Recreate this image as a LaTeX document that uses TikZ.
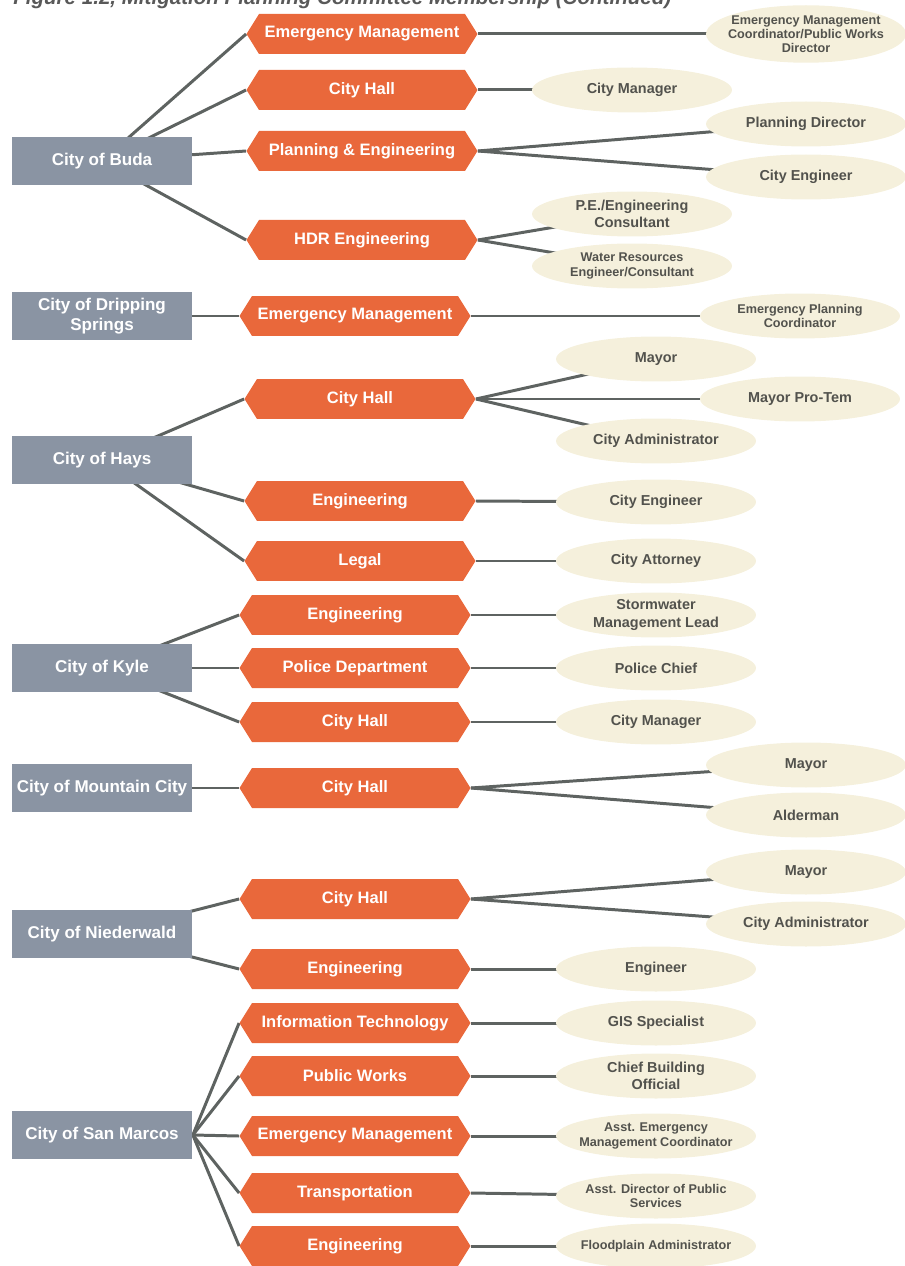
\documentclass[tikz,border=0pt]{standalone}
\usepackage{fontspec}
\setmainfont{Liberation Sans}
\usetikzlibrary{shapes.geometric,shapes.symbols,backgrounds}
\definecolor{cityBase}{HTML}{8A94A3}
\definecolor{deptBase}{HTML}{E9683B}
\definecolor{roleBase}{HTML}{F5F0DC}
\definecolor{linkBase}{HTML}{5E6361}
\definecolor{roleInk}{HTML}{52524D}
\colorlet{titleInk}{black!65}
\tikzstyle{cityBox}=[rectangle,fill=cityBase,text=white,minimum width=3.62cm,minimum height=0.96cm,inner sep=1pt,align=center,font=\fontsize{9.7}{11}\selectfont\bfseries]
\tikzstyle{deptHex}=[signal,signal to=west and east,signal pointer angle=116,fill=deptBase,text=white,minimum width=4.62cm,minimum height=0.8cm,inner sep=1pt,font=\fontsize{9.4}{11}\selectfont\bfseries]
\tikzstyle{roleOval}=[ellipse,fill=roleBase,text=roleInk,minimum width=4cm,minimum height=0.9cm,inner sep=0pt,align=center,font=\fontsize{8.2}{10}\selectfont\bfseries]
\tikzstyle{roleSmall}=[roleOval,inner xsep=-6pt,font=\fontsize{7.2}{8}\selectfont\bfseries]
\tikzstyle{link}=[draw=linkBase,line width=1.7pt]

\begin{document}
\begin{tikzpicture}[x=0.02cm,y=-0.02cm]
\useasboundingbox (0,0) rectangle (904,1266);
\node[anchor=base west,text=titleInk,inner sep=0pt,font=\fontsize{11.7}{13}\selectfont\bfseries\itshape] (title) at (13,5)
  {Figure 1.2, Mitigation Planning Committee Membership (Continued)};

% Buda
\node[cityBox] (buda) at (102,161) {City of Buda};
\node[deptHex] (bEM) at (362,34) {Emergency Management};
\node[deptHex] (bHall) at (362,90) {City Hall};
\node[deptHex] (bPlan) at (362,151) {Planning \& Engineering};
\node[deptHex] (bHDR) at (362,240) {HDR Engineering};
\node[roleSmall,minimum height=1.15cm] (bEMc) at (806,34) {Emergency Management\\Coordinator/Public Works\\Director};
\node[roleOval] (bMgr) at (632,90) {City Manager};
\node[roleOval] (bPlanDir) at (806,124) {Planning Director};
\node[roleOval] (bEngr) at (806,177) {City Engineer};
\node[roleOval] (bPE) at (632,214) {P.E./Engineering\\Consultant};
\node[roleSmall] (bWater) at (632,266) {Water Resources\\Engineer/Consultant};

% Dripping Springs
\node[cityBox] (drip) at (102,316) {City of Dripping\\Springs};
\node[deptHex] (dEM) at (355,316) {Emergency Management};
\node[roleSmall] (dEPC) at (800,316) {Emergency Planning\\Coordinator};

% Hays
\node[cityBox] (hays) at (102,460) {City of Hays};
\node[deptHex] (hHall) at (360,399) {City Hall};
\node[deptHex] (hEng) at (360,501) {Engineering};
\node[deptHex] (hLegal) at (360,561) {Legal};
\node[roleOval] (hMayor) at (656,359) {Mayor};
\node[roleOval] (hPro) at (800,399) {Mayor Pro-Tem};
\node[roleOval] (hAdmin) at (656,441) {City Administrator};
\node[roleOval] (hEngr) at (656,502) {City Engineer};
\node[roleOval] (hAtty) at (656,561) {City Attorney};

% Kyle
\node[cityBox] (kyle) at (102,668) {City of Kyle};
\node[deptHex] (kEng) at (355,615) {Engineering};
\node[deptHex] (kPolice) at (355,668) {Police Department};
\node[deptHex] (kHall) at (355,722) {City Hall};
\node[roleOval] (kStorm) at (656,615) {Stormwater\\Management Lead};
\node[roleOval] (kChief) at (656,668) {Police Chief};
\node[roleOval] (kMgr) at (656,722) {City Manager};

% Mountain City
\node[cityBox] (mtn) at (102,788) {City of Mountain City};
\node[deptHex] (mHall) at (355,788) {City Hall};
\node[roleOval] (mMayor) at (806,765) {Mayor};
\node[roleOval] (mAlder) at (806,815) {Alderman};

% Niederwald
\node[cityBox] (nied) at (102,934) {City of Niederwald};
\node[deptHex] (nHall) at (355,899) {City Hall};
\node[deptHex] (nEng) at (355,969) {Engineering};
\node[roleOval] (nMayor) at (806,872) {Mayor};
\node[roleOval] (nAdmin) at (806,924) {City Administrator};
\node[roleOval] (nEngr) at (656,969) {Engineer};

% San Marcos
\node[cityBox] (sanm) at (102,1135) {City of San Marcos};
\node[deptHex] (sIT) at (355,1023) {Information Technology};
\node[deptHex] (sPW) at (355,1076) {Public Works};
\node[deptHex] (sEM) at (355,1136) {Emergency Management};
\node[deptHex] (sTrans) at (355,1193) {Transportation};
\node[deptHex] (sEng) at (355,1246) {Engineering};
\node[roleOval] (sGIS) at (656,1023) {GIS Specialist};
\node[roleOval] (sCBO) at (656,1076) {Chief Building\\Official};
\node[roleSmall] (sAEM) at (656,1136) {Asst. Emergency\\Management Coordinator};
\node[roleSmall] (sADir) at (656,1196) {Asst. Director of Public\\Services};
\node[roleSmall] (sFlood) at (656,1246) {Floodplain Administrator};

\begin{scope}[on background layer]
\foreach \d in {bEM,bHall,bPlan,bHDR} \draw[link] (buda.center) -- (\d.west);
\draw[link] (bEM.east) -- (bEMc.center);
\draw[link] (bHall.east) -- (bMgr.center);
\foreach \r in {bPlanDir,bEngr} \draw[link] (bPlan.east) -- (\r.center);
\foreach \r in {bPE,bWater} \draw[link] (bHDR.east) -- (\r.center);
\draw[link] (drip.center) -- (dEM.west);
\draw[link] (dEM.east) -- (dEPC.center);
\foreach \d in {hHall,hEng,hLegal} \draw[link] (hays.center) -- (\d.west);
\foreach \r in {hMayor,hPro,hAdmin} \draw[link] (hHall.east) -- (\r.center);
\draw[link] (hEng.east) -- (hEngr.center);
\draw[link] (hLegal.east) -- (hAtty.center);
\foreach \d in {kEng,kPolice,kHall} \draw[link] (kyle.center) -- (\d.west);
\draw[link] (kEng.east) -- (kStorm.center);
\draw[link] (kPolice.east) -- (kChief.center);
\draw[link] (kHall.east) -- (kMgr.center);
\draw[link] (mtn.center) -- (mHall.west);
\foreach \r in {mMayor,mAlder} \draw[link] (mHall.east) -- (\r.center);
\foreach \d in {nHall,nEng} \draw[link] (nied.center) -- (\d.west);
\foreach \r in {nMayor,nAdmin} \draw[link] (nHall.east) -- (\r.center);
\draw[link] (nEng.east) -- (nEngr.center);
\foreach \d in {sIT,sPW,sEM,sTrans,sEng} \draw[link] (sanm.east) -- (\d.west);
\draw[link] (sIT.east) -- (sGIS.center);
\draw[link] (sPW.east) -- (sCBO.center);
\draw[link] (sEM.east) -- (sAEM.center);
\draw[link] (sTrans.east) -- (sADir.center);
\draw[link] (sEng.east) -- (sFlood.center);
\end{scope}
\end{tikzpicture}
\end{document}
